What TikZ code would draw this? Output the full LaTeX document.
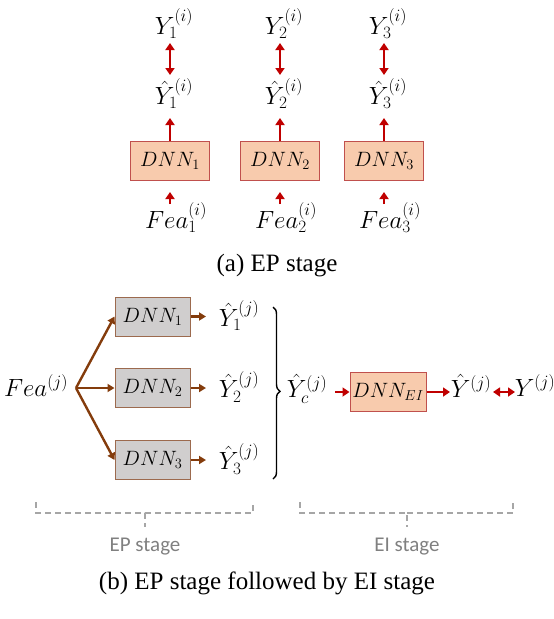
\documentclass[tikz,border=0pt]{standalone}
\usepackage{fontspec}
\setmainfont{Liberation Serif}
\newfontfamily\labelfont{Carlito}
\usetikzlibrary{arrows.meta,decorations.pathreplacing}
\definecolor{boxorange}{HTML}{F8CBAD}
\definecolor{boxred}{HTML}{C0504D}
\definecolor{arrred}{HTML}{C00000}
\definecolor{boxgray}{HTML}{D0CECE}
\definecolor{brown}{HTML}{843C0C}
\definecolor{boxbrown}{HTML}{9C6A4E}
\definecolor{dashgray}{HTML}{A6A6A6}
\definecolor{textgray}{HTML}{808080}
\tikzset{
  mathlbl/.style={inner sep=1pt,font=\fontsize{25}{28}\selectfont},
  epbox/.style={draw=boxred,fill=boxorange,line width=1pt,minimum width=79pt,minimum height=39pt,inner sep=0pt,font=\fontsize{21}{24}\selectfont},
  graybox/.style={draw=boxbrown,fill=boxgray,line width=1pt,minimum width=75pt,minimum height=39pt,inner sep=0pt,font=\fontsize{21}{24}\selectfont},
  redarr/.style={draw=arrred,line width=2.6pt,-{Triangle[length=7pt,width=9pt]}},
  redboth/.style={draw=arrred,line width=2.6pt,{Triangle[length=7pt,width=9pt]}-{Triangle[length=7pt,width=9pt]}},
  brownarr/.style={draw=brown,line width=2.4pt,-{Triangle[length=7pt,width=8pt]}},
  stagebrace/.style={draw=dashgray,line width=1.6pt,dash pattern=on 6pt off 4pt},
  caption/.style={font=\fontsize{25}{29}\selectfont},
  stagelbl/.style={text=textgray,font=\labelfont\fontsize{21}{25}\selectfont},
}
\begin{document}
\begin{tikzpicture}[x=1pt,y=-1pt]
\useasboundingbox (0,0) rectangle (554,619);

% ---------- (a) EP stage ----------
\foreach \k/\x in {1/170,2/280,3/384}{
  \node[mathlbl] (y\k) at (\x+4,24) {$Y_{\k}^{(i)}$};
  \node[mathlbl] (yh\k) at (\x+4,94) {$\hat{Y}_{\k}^{(i)}$};
  \node[epbox] (dnn\k) at (\x,160.5) {$DNN_{\k}$};
  \node[mathlbl] (fea\k) at (\x+6,218) {$Fea_{\k}^{(i)}$};
  \draw[redboth] (dnn\k.north |- 0,75) -- (dnn\k.north |- 0,43);
  \draw[redarr] (dnn\k.north) -- (dnn\k.north |- 0,118);
  \draw[redarr] (dnn\k.south |- 0,204) -- (dnn\k.south |- 0,192);
}
\node[caption] (capa) at (277,266) {(a) EP stage};

% ---------- (b) EP stage followed by EI stage ----------
\node[mathlbl] (fea) at (36,386) {$Fea^{(j)}$};
\coordinate (fork) at (76,388);
\foreach \k/\y in {1/316.5,2/388,3/460}{
  \node[graybox] (g\k) at (152.5,\y) {$DNN_{\k}$};
  \node[mathlbl] (gy\k) at (239,\y-1) {$\hat{Y}_{\k}^{(j)}$};
  \draw[brownarr] (g\k.east) -- (206,\y);
}
\draw[brownarr] (fork) -- (g1.west);
\draw[brownarr] (fork) -- (g2.west);
\draw[brownarr] (fork) -- (g3.west);

% brace collecting the three estimates
\draw[line width=1.4pt,decorate,decoration={brace,amplitude=7pt,aspect=0.49}]
  (273,307) -- (273,479);

\node[mathlbl] (yc) at (307,389) {$\hat{Y}_{c}^{(j)}$};
\node[epbox,minimum width=76pt,font=\fontsize{20}{23}\selectfont] (ei) at (388,392) {$DNN_{EI}$};
\node[mathlbl] (yhat) at (471,386) {$\hat{Y}^{(j)}$};
\node[mathlbl] (ytrue) at (535,386) {$Y^{(j)}$};
\draw[redarr,line width=2.2pt] (335,392) -- (ei.west);
\draw[redarr,line width=2.2pt] (ei.east) -- (450,392);
\draw[redboth,line width=2.2pt] (493,392) -- (515,392);

% dashed stage braces
\draw[stagebrace] (36,502) |- (145,513) -- (145,527);
\draw[stagebrace] (145,513) -| (253,502);
\draw[stagebrace] (300,502) |- (407,513) -- (407,527);
\draw[stagebrace] (407,513) -| (513,502);
\node[stagelbl] (eplbl) at (145,547) {EP stage};
\node[stagelbl] (eilbl) at (407,547) {EI stage};

\node[caption] (capb) at (267,583) {(b) EP stage followed by EI stage};
\end{tikzpicture}
\end{document}
